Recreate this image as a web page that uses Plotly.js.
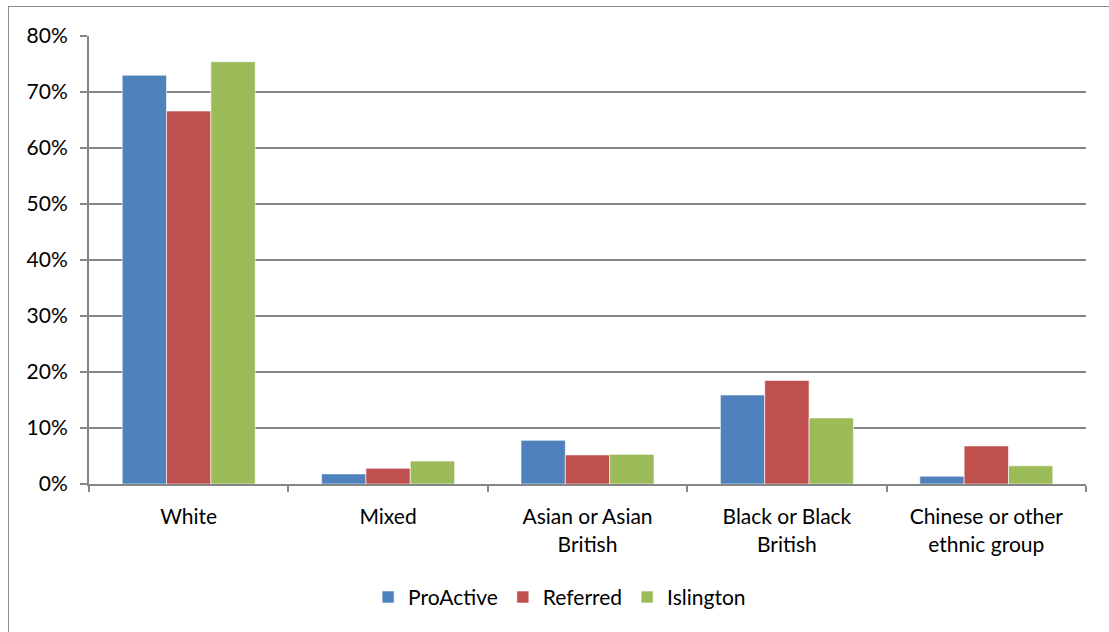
<!DOCTYPE html>
<html>
<head>
<meta charset="utf-8">
<script src="https://cdn.plot.ly/plotly-3.0.1.min.js"></script>
<style>
  html, body { margin: 0; padding: 0; background: #ffffff; }
  #frame { position: absolute; left: 8px; top: 6px; width: 1200px; height: 700px;
           border: 1px solid #8c8c8c; box-sizing: border-box; pointer-events: none; }
  #chart { position: absolute; left: 0; top: 0; width: 1109px; height: 632px; }
</style>
</head>
<body>
<div id="chart"></div>
<div id="frame"></div>
<script>
// Ethnic group breakdown (share of each population)
const categories = ["White", "Mixed", "Asian or Asian<br>British", "Black or Black<br>British", "Chinese or other<br>ethnic group"];
const proActive = [0.730, 0.018, 0.078, 0.159, 0.014];
const referred  = [0.666, 0.028, 0.052, 0.185, 0.068];
const islington = [0.754, 0.041, 0.053, 0.118, 0.0325];
const tickVals  = [0, 0.1, 0.2, 0.3, 0.4, 0.5, 0.6, 0.7, 0.8];
const tickText  = ["0%", "10%", "20%", "30%", "40%", "50%", "60%", "70%", "80%"];

const FONT = "Lato, 'Open Sans', sans-serif";
const SIZE = 21;

function series(name, values, color) {
  return {
    type: "bar", name: name, x: categories, y: values,
    marker: { color: color, line: { color: "rgba(255,255,255,0.6)", width: 1 } },
    hoverinfo: "skip"
  };
}

const data = [
  series("ProActive", proActive, "#4f81bd"),
  series("Referred", referred, "#c0504d"),
  series("Islington", islington, "#9bbb59")
];

const layout = {
  width: 1109, height: 632,
  margin: { l: 89, r: 23, t: 36, b: 147.5, pad: 0 },
  paper_bgcolor: "#ffffff", plot_bgcolor: "#ffffff",
  font: { family: FONT, size: SIZE, color: "#000000" },
  barmode: "group", bargap: 0.333, bargroupgap: 0,
  showlegend: true,
  legend: {
    orientation: "h", x: 0.472, xanchor: "center", y: -0.253, yanchor: "middle",
    font: { family: FONT, size: SIZE, color: "#000000" },
    traceorder: "normal", itemwidth: 30
  },
  xaxis: {
    type: "category", showgrid: false, zeroline: false,
    showline: true, linecolor: "#868686", linewidth: 2,
    ticks: "outside", ticklen: 6, tickcolor: "#868686", tickwidth: 2,
    tickson: "boundaries", ticklabelstandoff: 13,
    tickfont: { family: FONT, size: SIZE, color: "#000000" }
  },
  yaxis: {
    range: [0, 0.8], tickvals: tickVals, ticktext: tickText,
    showgrid: true, gridcolor: "#868686", gridwidth: 1.5, zeroline: false,
    showline: true, linecolor: "#868686", linewidth: 2,
    ticks: "outside", ticklen: 7, tickcolor: "#868686", tickwidth: 1.5,
    ticklabelstandoff: 8,
    tickfont: { family: FONT, size: SIZE, color: "#000000" }
  }
};

Plotly.newPlot("chart", data, layout, { staticPlot: true, displayModeBar: false });
</script>
</body>
</html>
